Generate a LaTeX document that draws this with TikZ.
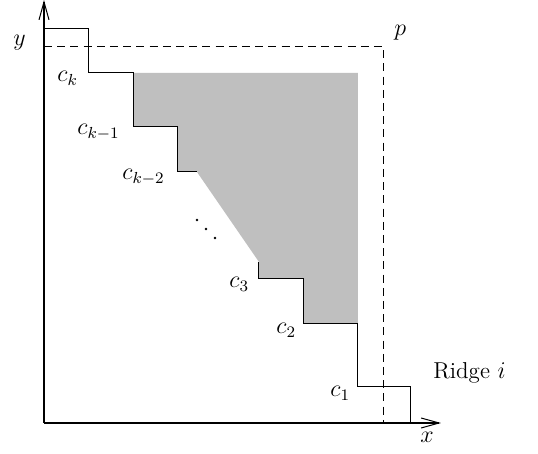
\documentclass[tikz,border=0pt]{standalone}
\usetikzlibrary{arrows.meta}
\definecolor{regiongray}{RGB}{191,191,191}
\begin{document}
\begin{tikzpicture}[x=0.5pt,y=-0.5pt,
  lbl/.style={inner sep=0pt, anchor=base west, font=\fontsize{11.5}{14}\selectfont},
  axis/.style={line width=0.6pt, -{Straight Barb[length=9pt,width=5pt,line width=0.5pt]}},
  stair/.style={line width=0.5pt},
  bound/.style={line width=0.5pt, dash pattern=on 4pt off 2.6pt}]
\useasboundingbox (0,0) rectangle (538,454);
\coordinate (O) at (44,423);
\coordinate (XE) at (441,423);
\coordinate (YE) at (44,0);
\coordinate (P) at (384,47);
\coordinate (PY) at (44,47);
\coordinate (PX) at (384,423);
% shaded region
\fill[regiongray] (134,73) -- (358,73) -- (358,324) -- (304,324) -- (304,279) -- (259,279)
  -- (259,262) -- (197,172) -- (178,172) -- (178,127) -- (134,127) -- cycle;
% dashed bound
\draw[bound] (PY) -- (P) -- (PX);
% staircase
\draw[stair] (44,29) -- (89,29) -- (89,73) -- (134,73) -- (134,127) -- (178,127) -- (178,172) -- (197,172);
\draw[stair] (259,262) -- (259,279) -- (304,279) -- (304,324) -- (358,324) -- (358,387) -- (411,387) -- (411,423);
% axes
\draw[axis] (O) -- (XE);
\draw[axis] (O) -- (YE);
% labels
\node[lbl] (ly) at (13,46) {$y$};
\node[lbl] (lx) at (420,443) {$x$};
\node[lbl] (lp) at (394,36) {$p$};
\node[lbl] (ck) at (57,82) {$c_k$};
\node[lbl] (ck1) at (77,135) {$c_{k-1}$};
\node[lbl] (ck2) at (122,180) {$c_{k-2}$};
\node[lbl] (c3) at (229,288) {$c_3$};
\node[lbl] (c2) at (276,334) {$c_2$};
\node[lbl] (c1) at (330,397) {$c_1$};
\node[lbl] (ridge) at (433,379) {Ridge $i$};
% continuation dots
\fill (197,220) circle (1.3) (206,229) circle (1.3) (215,238) circle (1.3);
\end{tikzpicture}
\end{document}
